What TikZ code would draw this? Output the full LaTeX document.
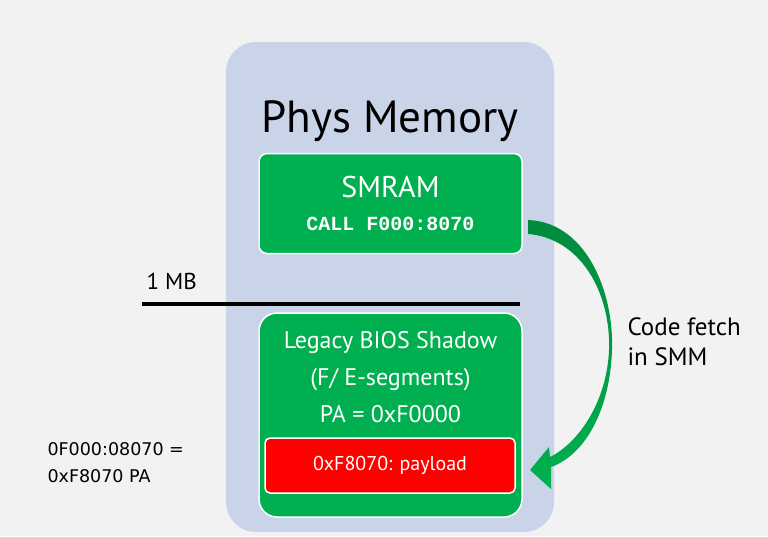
\documentclass[tikz,border=0pt]{standalone}
\usepackage{fontspec}
\setmainfont{PT Sans}
\newfontfamily\codefont{Liberation Mono}
\newfontfamily\notefont{DejaVu Sans}
\usetikzlibrary{positioning}
\definecolor{slidebg}{HTML}{F2F2F2}
\definecolor{memblue}{HTML}{CAD4E8}
\definecolor{boxgreen}{HTML}{00B050}
\definecolor{boxred}{HTML}{FF0000}
\definecolor{fetchdark}{HTML}{008A3E}

\begin{document}
\begin{tikzpicture}[x=1pt, y=-1pt,
  membox/.style={fill=memblue, rounded corners=30pt, minimum width=328pt, minimum height=490pt},
  greenbox/.style={draw=white, line width=1.5pt, fill=boxgreen, text=white, minimum width=263pt, align=center},
  redbox/.style={draw=white, line width=1.5pt, fill=boxred, text=white, rounded corners=5pt, minimum width=250pt, minimum height=55pt}]
\fill[slidebg](0,0)rectangle(768,536);
\useasboundingbox(0,0)rectangle(768,536);

\node[membox](mem) at (390,287){};
\node[anchor=base](title) at (390,132){\fontsize{45}{54}\selectfont Phys Memory};

\node[greenbox, rounded corners=8pt, minimum height=100pt](smram) at (390.5,203.5)
  {\fontsize{30}{30}\selectfont SMRAM\\[19pt]{\codefont\bfseries\fontsize{20}{20}\selectfont CALL F000:8070}};

\coordinate(mbl) at (142,304);
\coordinate(mbr) at (520,304);
\draw[line width=4pt](mbl)--(mbr);
\node[anchor=base west](mb) at (143,289){\fontsize{23}{23}\selectfont 1 MB};

\node[greenbox, rounded corners=18pt, minimum height=204pt](shadow) at (390.5,415){};
\node[text=white, align=center, font=\fontsize{24}{37}\selectfont](shadowtxt) at (390.5,377)
  {Legacy BIOS Shadow\\(F/ E-segments)\\PA = 0xF0000};
\node[redbox](payload) at (390,465.5){\fontsize{20}{20}\selectfont 0xF8070: payload};

% code fetch arrow
\shade[top color=fetchdark, bottom color=boxgreen]
  (528,220) .. controls (585,222) and (614,290) .. (612,350)
  .. controls (610,410) and (585,455) .. (551,467)
  -- (551,489) -- (530,470) -- (549,447) -- (550,457)
  .. controls (580,442) and (607,400) .. (609,350)
  .. controls (611,292) and (580,238) .. (528,234) -- cycle;
\node[anchor=west, align=left, font=\fontsize{25}{30}\selectfont](fetch) at (624,342){Code fetch\\in SMM};

\node[anchor=west, align=left, font=\notefont\fontsize{17.5}{27}\selectfont](addr) at (44,463){0F000:08070 =\\0xF8070 PA};
\end{tikzpicture}
\end{document}
